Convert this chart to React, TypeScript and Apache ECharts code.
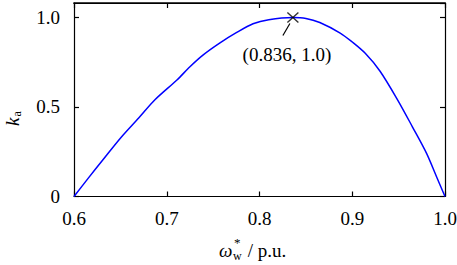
import React, { useEffect, useRef } from "react";
import * as echarts from "echarts";

const omegaValues = [
  0.6, 0.615, 0.631, 0.65, 0.67, 0.687, 0.711, 0.725, 0.739, 0.757, 0.775,
  0.793, 0.81, 0.836, 0.85, 0.865, 0.887, 0.9, 0.914, 0.93, 0.949, 0.965,
  0.98, 0.991, 1.0,
];
const kaValues = [
  0.0, 0.1, 0.204, 0.326, 0.44, 0.539, 0.651, 0.725, 0.79, 0.857, 0.915,
  0.965, 0.988, 1.0, 0.995, 0.972, 0.913, 0.863, 0.8, 0.7, 0.539, 0.388,
  0.242, 0.109, 0.0,
];
const peakOmega = 0.836;
const peakKa = 1.0;
const xRange = [0.6, 1.0];
const yRange = [0, 1.081];

const FONT = "'Liberation Serif', 'Times New Roman', serif";
const FS = 19;

export default function App() {
  const ref = useRef<HTMLDivElement>(null);
  useEffect(() => {
    if (!ref.current) return;
    const chart = echarts.init(ref.current, undefined, { renderer: "svg" });
    const tick = { show: true, inside: true, length: 5, lineStyle: { color: "#000", width: 1.2 } };
    chart.setOption({
      animation: false,
      grid: {
        left: 74,
        right: 12,
        top: 3,
        bottom: 68.5,
        outerBoundsMode: "none",
        containLabel: false,
      },
      xAxis: [
        {
          type: "value",
          gridIndex: 0,
          position: "bottom",
          min: xRange[0],
          max: xRange[1],
          interval: 0.1,
          axisLine: { show: true, onZero: false, lineStyle: { color: "#000", width: 1.2 } },
          axisTick: tick,
          splitLine: { show: false },
          axisLabel: {
            margin: 12,
            color: "#000",
            fontFamily: FONT,
            fontSize: FS,
            formatter: (v: number) => v.toFixed(1),
          },
        },
        {
          type: "value",
          gridIndex: 0,
          position: "top",
          min: xRange[0],
          max: xRange[1],
          interval: 0.1,
          axisLine: { show: true, onZero: false, lineStyle: { color: "#000", width: 1.2 } },
          axisTick: tick,
          splitLine: { show: false },
          axisLabel: { show: false },
        },
      ],
      yAxis: [
        {
          type: "value",
          gridIndex: 0,
          position: "left",
          min: yRange[0],
          max: yRange[1],
          interval: 0.5,
          axisLine: { show: true, onZero: false, lineStyle: { color: "#000", width: 1.2 } },
          axisTick: tick,
          splitLine: { show: false },
          axisLabel: {
            margin: 14,
            color: "#000",
            fontFamily: FONT,
            fontSize: FS,
            showMaxLabel: false,
            formatter: (v: number) => (v === 0 ? "0" : v.toFixed(1)),
          },
        },
        {
          type: "value",
          gridIndex: 0,
          position: "right",
          min: yRange[0],
          max: yRange[1],
          interval: 0.5,
          axisLine: { show: true, onZero: false, lineStyle: { color: "#000", width: 1.2 } },
          axisTick: tick,
          splitLine: { show: false },
          axisLabel: { show: false },
        },
      ],
      series: [
        {
          type: "line",
          data: omegaValues.map((w, i) => [w, kaValues[i]]),
          showSymbol: false,
          symbol: "none",
          smooth: 0.3,
          lineStyle: { color: "#0000ff", width: 1.5 },
        },
        {
          type: "scatter",
          data: [[peakOmega, peakKa]],
          symbol: "path://M0,0L10,10M10,0L0,10",
          symbolSize: [11, 10],
          itemStyle: { color: "none", borderColor: "#000", borderWidth: 1.3 },
          z: 5,
        },
      ],
    });
    const p = chart.convertToPixel({ seriesIndex: 1 }, [peakOmega, peakKa]) as number[];
    const tl = chart.convertToPixel({ xAxisIndex: 0, yAxisIndex: 0 }, [xRange[0], yRange[1]]) as number[];
    const tr = chart.convertToPixel({ xAxisIndex: 0, yAxisIndex: 0 }, [xRange[1], yRange[1]]) as number[];
    chart.setOption({
      graphic: [
        {
          type: "rect",
          z: 100,
          shape: { x: tl[0] - 0.6, y: tl[1] - 0.7, width: tr[0] - tl[0] + 1.2, height: 1.4 },
          style: { fill: "#000" },
        },
        {
          type: "line",
          shape: { x1: p[0] - 3, y1: p[1] + 6, x2: p[0] - 10, y2: p[1] + 18 },
          style: { stroke: "#000", lineWidth: 1.2 },
        },
        {
          type: "text",
          x: p[0] - 6,
          y: p[1] + 37,
          style: {
            text: `(${peakOmega}, ${peakKa.toFixed(1)})`,
            fontFamily: FONT,
            fontSize: FS,
            fill: "#000",
            align: "center",
            verticalAlign: "middle",
          },
        },
        // x-axis title
        {
          type: "text",
          x: 219,
          y: 250,
          style: { text: "ω", fontFamily: FONT, fontStyle: "italic", fontSize: FS, fill: "#000", align: "left", verticalAlign: "middle" },
        },
        {
          type: "text",
          x: 234,
          y: 242,
          style: { text: "*", fontFamily: FONT, fontSize: 13, fill: "#000", align: "left", verticalAlign: "middle" },
        },
        {
          type: "text",
          x: 233,
          y: 256,
          style: { text: "w", fontFamily: FONT, fontSize: 12, fill: "#000", align: "left", verticalAlign: "middle" },
        },
        {
          type: "text",
          x: 243,
          y: 250,
          style: { text: " / p.u.", fontFamily: FONT, fontSize: FS, fill: "#000", align: "left", verticalAlign: "middle" },
        },
        // y-axis title (rotated)
        {
          type: "group",
          x: 12,
          y: 117,
          rotation: Math.PI / 2,
          children: [
            {
              type: "text",
              x: -9,
              y: 0,
              style: { text: "k", fontFamily: FONT, fontStyle: "italic", fontSize: FS, fill: "#000", align: "left", verticalAlign: "middle" },
            },
            {
              type: "text",
              x: 0.5,
              y: 5,
              style: { text: "a", fontFamily: FONT, fontSize: 12, fill: "#000", align: "left", verticalAlign: "middle" },
            },
          ],
        },
      ],
    });
    return () => chart.dispose();
  }, []);
  return (
    <div
      ref={ref}
      style={{ position: "absolute", left: 0, top: 0, width: 457, height: 265, background: "#fff" }}
    />
  );
}
